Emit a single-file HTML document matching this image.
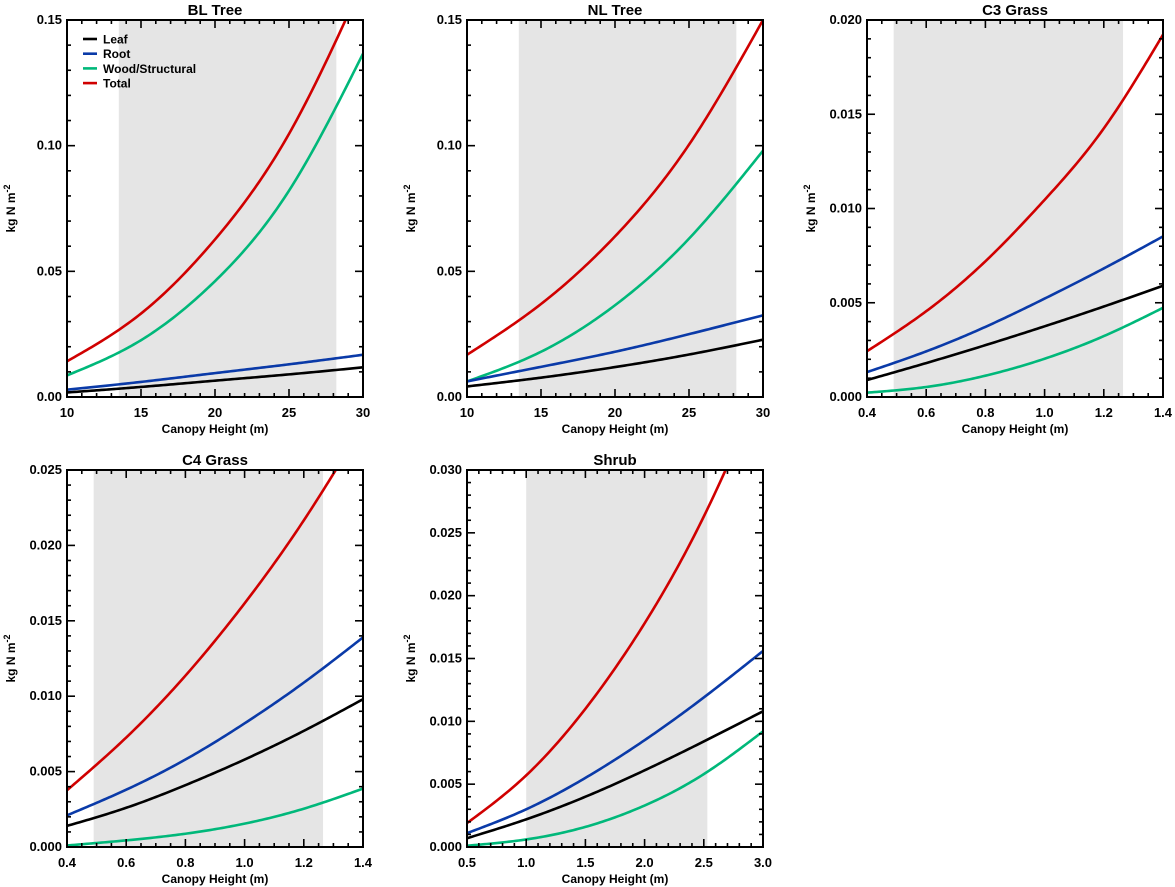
<!DOCTYPE html>
<html><head><meta charset="utf-8"><style>
html,body{margin:0;padding:0;background:#fff;}
svg{display:block;font-family:"Liberation Sans",Arial,sans-serif;font-weight:bold;}
</style></head><body>
<svg id="fig" width="1175" height="887" viewBox="0 0 1175 887" xmlns="http://www.w3.org/2000/svg"></svg>
<script>
// ---- data ----
const blX = [10, 15, 20, 25, 30];
const blTotal = [0.0142, 0.0332, 0.0627, 0.1047, 0.1652];
const blWood = [0.0086, 0.0226, 0.0461, 0.0821, 0.1366];
const blRoot = [0.0029, 0.006, 0.0095, 0.013, 0.0168];
const blLeaf = [0.0018, 0.004, 0.0065, 0.009, 0.0118];

const nlX = [10, 15, 20, 25, 30];
const nlTotal = [0.0168, 0.037, 0.0639, 0.1004, 0.150];
const nlWood = [0.0062, 0.018, 0.0365, 0.063, 0.098];
const nlRoot = [0.0062, 0.012, 0.018, 0.025, 0.0325];
const nlLeaf = [0.0042, 0.0077, 0.0119, 0.0169, 0.0228];

const c3X = [0.4, 0.6, 0.8, 1.0, 1.2, 1.4];
const c3Total = [0.00243, 0.00455, 0.0072, 0.01046, 0.01425, 0.01922];
const c3Root = [0.00132, 0.00242, 0.00372, 0.00522, 0.00682, 0.00852];
const c3Leaf = [0.0009, 0.0018, 0.00275, 0.00375, 0.0048, 0.0059];
const c3Wood = [0.00023, 0.00053, 0.00113, 0.00203, 0.00323, 0.00473];

const c4X = [0.4, 0.6, 0.8, 1.0, 1.2, 1.4];
const c4Total = [0.00376, 0.00726, 0.01136, 0.01616, 0.02166, 0.02796];
const c4Root = [0.0021, 0.0038, 0.0058, 0.0082, 0.0109, 0.0139];
const c4Leaf = [0.0014, 0.0026, 0.0041, 0.0058, 0.0077, 0.0098];
const c4Wood = [0.0001, 0.00044, 0.00088, 0.00155, 0.00254, 0.00387];

const shX = [0.5, 1.0, 1.5, 2.0, 2.5, 3.0];
const shTotal = [0.0019, 0.0057, 0.011, 0.0178, 0.0263, 0.0368];
const shRoot = [0.0011, 0.003, 0.0055, 0.0085, 0.0119, 0.0156];
const shLeaf = [0.0007, 0.0022, 0.004, 0.0061, 0.0084, 0.0108];
const shWood = [0.0001, 0.0006, 0.0016, 0.0033, 0.0058, 0.0092];

const legendLabels = ["Leaf", "Root", "Wood/Structural", "Total"];
const COL = {leaf:"#000000", root:"#0a3aa8", wood:"#00b87a", total:"#d00000"};

const panels = [
 {name:"bl-tree", title:"BL Tree", x0:67, y0:20, xmin:10, xmax:30, ymax:0.15, xmaj:5, xmin_:1, ymaj:0.05, ymin_:0.01, xdec:0, ydec:2, shade:[13.5,28.2],
  x:blX, s:{wood:blWood, root:blRoot, leaf:blLeaf, total:blTotal}, legend:true},
 {name:"nl-tree", title:"NL Tree", x0:467, y0:20, xmin:10, xmax:30, ymax:0.15, xmaj:5, xmin_:1, ymaj:0.05, ymin_:0.01, xdec:0, ydec:2, shade:[13.5,28.2],
  x:nlX, s:{wood:nlWood, root:nlRoot, leaf:nlLeaf, total:nlTotal}},
 {name:"c3-grass", title:"C3 Grass", x0:867, y0:20, xmin:0.4, xmax:1.4, ymax:0.02, xmaj:0.2, xmin_:0.05, ymaj:0.005, ymin_:0.001, xdec:1, ydec:3, shade:[0.49,1.265],
  x:c3X, s:{wood:c3Wood, root:c3Root, leaf:c3Leaf, total:c3Total}},
 {name:"c4-grass", title:"C4 Grass", x0:67, y0:470, xmin:0.4, xmax:1.4, ymax:0.025, xmaj:0.2, xmin_:0.05, ymaj:0.005, ymin_:0.001, xdec:1, ydec:3, shade:[0.49,1.265],
  x:c4X, s:{wood:c4Wood, root:c4Root, leaf:c4Leaf, total:c4Total}},
 {name:"shrub", title:"Shrub", x0:467, y0:470, xmin:0.5, xmax:3.0, ymax:0.03, xmaj:0.5, xmin_:0.1, ymaj:0.005, ymin_:0.001, xdec:1, ydec:3, shade:[1.0,2.53],
  x:shX, s:{wood:shWood, root:shRoot, leaf:shLeaf, total:shTotal}}
];

const W = 296, H = 377;
const NS = "http://www.w3.org/2000/svg";
const svg = document.getElementById("fig");
function mk(tag, attrs, parent){ const e=document.createElementNS(NS,tag); for(const k in attrs) e.setAttribute(k,attrs[k]); (parent||svg).appendChild(e); return e; }

// natural cubic spline sampler
function spline(xs, ys){
  const n = xs.length, h = [], a = [], l = [1], mu = [0], z = [0], c = new Array(n).fill(0), b = [], d = [];
  for(let i=0;i<n-1;i++) h.push(xs[i+1]-xs[i]);
  for(let i=1;i<n-1;i++) a[i] = 3/h[i]*(ys[i+1]-ys[i]) - 3/h[i-1]*(ys[i]-ys[i-1]);
  for(let i=1;i<n-1;i++){ l[i]=2*(xs[i+1]-xs[i-1])-h[i-1]*mu[i-1]; mu[i]=h[i]/l[i]; z[i]=(a[i]-h[i-1]*z[i-1])/l[i]; }
  for(let j=n-2;j>=0;j--){ c[j]=(j>0? z[j]-mu[j]*c[j+1] : 0); b[j]=(ys[j+1]-ys[j])/h[j]-h[j]*(c[j+1]+2*c[j])/3; d[j]=(c[j+1]-c[j])/(3*h[j]); }
  return t => { let i=0; while(i<n-2 && t>xs[i+1]) i++; const dx=t-xs[i]; return ys[i]+b[i]*dx+c[i]*dx*dx+d[i]*dx*dx*dx; };
}

panels.forEach((p, pi) => {
  const g = mk("g", {});
  
  
  const sx = v => p.x0 + (v - p.xmin) / (p.xmax - p.xmin) * W;
  const sy = v => p.y0 + H - v / p.ymax * H;
  const sh = mk("rect", {x:sx(p.shade[0]), y:p.y0, width:sx(p.shade[1])-sx(p.shade[0]), height:H, fill:"#e5e5e5"}, g);
  
  
  const cp = mk("clipPath", {id:"clip"+pi}, g);
  mk("rect", {x:p.x0, y:p.y0, width:W, height:H}, cp);
  ["wood","root","leaf","total"].forEach(k => {
    const f = spline(p.x, p.s[k]);
    const x0 = p.x[0], x1 = p.x[p.x.length-1];
    let d = "";
    for(let i=0;i<=120;i++){
      const t = x0 + (x1-x0)*i/120;
      d += (i?"L":"M") + sx(t).toFixed(2) + "," + sy(f(t)).toFixed(2);
    }
    const path = mk("path", {d:d, fill:"none", stroke:COL[k], "stroke-width":2.6, "stroke-linejoin":"round", "clip-path":"url(#clip"+pi+")"}, g);
    
    
  });
  const tk = mk("g", {stroke:"#000", "stroke-width":1.6}, g);
  const nXmin = Math.round((p.xmax-p.xmin)/p.xmin_);
  for(let i=0;i<=nXmin;i++){
    const v = p.xmin + i*p.xmin_;
    const isMaj = Math.abs(((v-p.xmin)/p.xmaj) - Math.round((v-p.xmin)/p.xmaj)) < 1e-6;
    const L = isMaj ? 8 : 4, X = sx(v);
    mk("line", {x1:X, x2:X, y1:p.y0+H, y2:p.y0+H-L}, tk);
    mk("line", {x1:X, x2:X, y1:p.y0, y2:p.y0+L}, tk);
    if(isMaj){
      const t = mk("text", {x:X, y:p.y0+H+20, "text-anchor":"middle", "font-size":13}, g);
      t.textContent = v.toFixed(p.xdec);
      
      
    }
  }
  const nYmin = Math.round(p.ymax/p.ymin_);
  for(let i=0;i<=nYmin;i++){
    const v = i*p.ymin_;
    const isMaj = Math.abs(v/p.ymaj - Math.round(v/p.ymaj)) < 1e-6;
    const L = isMaj ? 8 : 4, Y = sy(v);
    mk("line", {x1:p.x0, x2:p.x0+L, y1:Y, y2:Y}, tk);
    mk("line", {x1:p.x0+W, x2:p.x0+W-L, y1:Y, y2:Y}, tk);
    if(isMaj){
      const t = mk("text", {x:p.x0-5, y:Y+4, "text-anchor":"end", "font-size":13}, g);
      t.textContent = v.toFixed(p.ydec);
      
      
    }
  }
  const fr = mk("rect", {x:p.x0, y:p.y0, width:W, height:H, fill:"none", stroke:"#000", "stroke-width":2}, g);
  
  
  const ti = mk("text", {x:p.x0+W/2, y:p.y0-5, "text-anchor":"middle", "font-size":15}, g);
  ti.textContent = p.title;
  
  
  const xt = mk("text", {x:p.x0+W/2, y:p.y0+H+36, "text-anchor":"middle", "font-size":12}, g);
  xt.textContent = "Canopy Height (m)";
  
  
  const yt = mk("text", {x:0, y:0, "text-anchor":"middle", "font-size":12, transform:"translate("+(p.x0-52)+","+(p.y0+H/2)+") rotate(-90)"}, g);
  yt.textContent = "kg N m";
  const sup = mk("tspan", {"font-size":9, dy:-5}, yt);
  sup.textContent = "-2";
  
  
  if(p.legend){
    const lg = mk("g", {}, g);
    
    
    const keys = ["leaf","root","wood","total"];
    keys.forEach((k,i)=>{
      const y = 39 + i*14.7;
      const e = mk("g", {}, lg);
      
      
      mk("line", {x1:83, x2:97, y1:y, y2:y, stroke:COL[k], "stroke-width":2.6}, e);
      const t = mk("text", {x:103, y:y+4.5, "font-size":12}, e);
      t.textContent = legendLabels[i];
    });
  }
});
</script>
</body></html>
